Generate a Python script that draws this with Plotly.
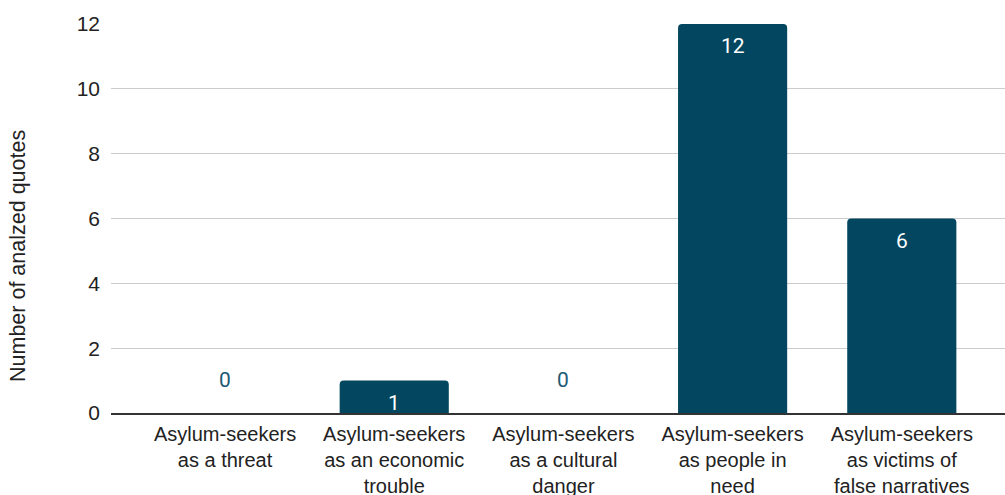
import plotly.graph_objects as go

# Categories and counts of analysed quotes
categories = [
    "Asylum-seekers<br>as a threat",
    "Asylum-seekers<br>as an economic<br>trouble",
    "Asylum-seekers<br>as a cultural<br>danger",
    "Asylum-seekers<br>as people in<br>need",
    "Asylum-seekers<br>as victims of<br>false narratives",
]
counts = [0, 1, 0, 12, 6]
y_ticks = [0, 2, 4, 6, 8, 10, 12]

BAR_COLOR = "#03465F"
LABEL_OUT = "#1D5A74"
FONT = "Liberation Sans, Arial, sans-serif"

W, H = 1005, 495
M_L, M_R, M_T, M_B = 111, 0, 24, 82

xpos = list(range(len(categories)))

fig = go.Figure()
fig.add_trace(go.Bar(
    x=xpos,
    y=counts,
    width=0.645,
    marker=dict(color=BAR_COLOR, line=dict(width=0), cornerradius=4),
    hoverinfo="skip",
    showlegend=False,
))

# Value labels: inside the top of non-empty bars, above the axis for empty ones
for x, v in zip(xpos, counts):
    inside = v > 0
    fig.add_annotation(
        x=x, y=v, xref="x", yref="y",
        text=str(v),
        showarrow=False,
        yanchor="middle",
        yshift=-22 if inside else 33,
        font=dict(family="Roboto, sans-serif", size=21,
                  color="#FFFFFF" if inside else LABEL_OUT),
    )

# Vertical axis title, placed in pixel terms relative to the plot area
plot_w = W - M_L - M_R
plot_h = H - M_T - M_B
fig.add_annotation(
    x=(18 - M_L) / plot_w, y=(H - M_B - 256) / plot_h,
    xref="paper", yref="paper",
    text="Number of analzed quotes",
    showarrow=False,
    textangle=-90,
    xanchor="center", yanchor="middle",
    font=dict(family=FONT, size=21.5, color="#222222"),
)

fig.update_layout(
    width=W,
    height=H,
    margin=dict(l=M_L, r=M_R, t=M_T, b=M_B),
    paper_bgcolor="white",
    plot_bgcolor="white",
    font=dict(family=FONT, size=20, color="#222222"),
)

fig.update_xaxes(
    range=[-0.674, 4.61],
    tickmode="array",
    tickvals=xpos,
    ticktext=categories,
    tickfont=dict(family=FONT, size=20, color="#222222"),
    showgrid=False,
    zeroline=False,
    showline=True,
    linecolor="#333333",
    linewidth=1.5,
    ticks="",
    ticklabelstandoff=2,
    automargin=False,
)

fig.update_yaxes(
    range=[0, 12],
    tickmode="array",
    tickvals=y_ticks,
    ticktext=[str(t) for t in y_ticks],
    tickfont=dict(family=FONT, size=21, color="#222222"),
    showgrid=True,
    gridcolor="#CCCCCC",
    gridwidth=1.3,
    zeroline=False,
    ticks="",
    ticklabelstandoff=10,
    automargin=False,
)

fig.write_html("out.html")
